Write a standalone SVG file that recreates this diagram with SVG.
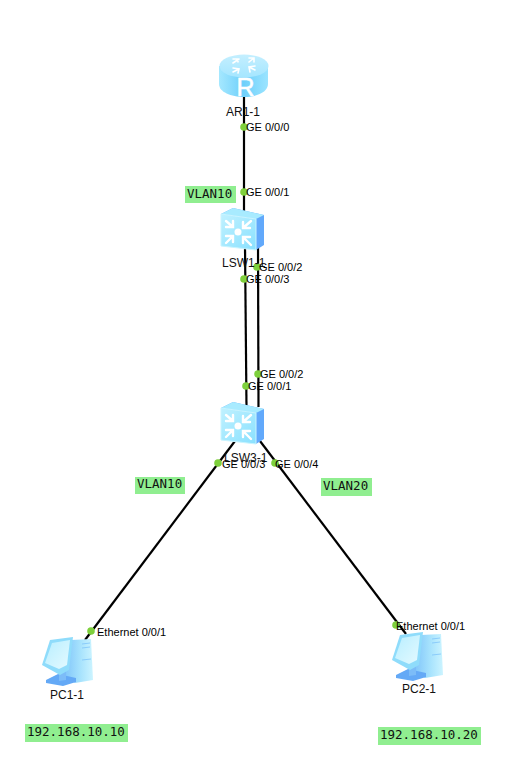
<svg xmlns="http://www.w3.org/2000/svg" width="512" height="778" viewBox="0 0 512 778">
<style>
.l{font-family:"Liberation Sans",Arial,sans-serif;font-size:11px;fill:#000}
.n{font-family:"Liberation Sans",Arial,sans-serif;font-size:12px;fill:#111}
.m{font-family:"DejaVu Sans Mono","Liberation Mono",monospace;font-size:12.5px;fill:#111}
.b{fill:#90ee90}
.c{stroke:#000;stroke-width:2.2;fill:none}
.d{fill:#7ed03c}
.w{stroke:#fff;stroke-width:2.4;fill:none;stroke-linecap:round}
</style>
<defs>
<linearGradient id="top" x1="0" y1="0" x2="0" y2="1"><stop offset="0" stop-color="#c4efff"/><stop offset="1" stop-color="#a5e6ff"/></linearGradient>
<linearGradient id="body" x1="0" y1="0" x2="1" y2="0"><stop offset="0" stop-color="#a5e8ff"/><stop offset="0.5" stop-color="#6fd0fb"/><stop offset="1" stop-color="#9be4ff"/></linearGradient>
<linearGradient id="face" x1="0" y1="0" x2="1" y2="1"><stop offset="0" stop-color="#c0f1ff"/><stop offset="1" stop-color="#8ae1ff"/></linearGradient>
<linearGradient id="tower" x1="0" y1="0" x2="1" y2="0"><stop offset="0" stop-color="#7fc4fa"/><stop offset="0.55" stop-color="#a6e2fd"/><stop offset="1" stop-color="#ccf4ff"/></linearGradient>
<linearGradient id="screen" x1="0" y1="0" x2="1" y2="1"><stop offset="0" stop-color="#b8eeff"/><stop offset="1" stop-color="#e4faff"/></linearGradient>
<g id="sw">
<path d="M-19-18 L-7-24 L24-17 L24 13 L16 18 L16-13Z" fill="#62a9fb"/>
<path d="M-19-18 L-7-24 L24-17 L16-13Z" fill="#a8ebff"/>
<path d="M-19-18 L16-13 L16 18 L-19 14Z" fill="url(#face)" stroke="#c9f4ff" stroke-width="1"/>
<circle cx="-2" cy="0" r="3.500" fill="#fff"/>
<path class="w" d="M-14-11 L-7-5 M-14-5 L-7-5 L-7-11 M11-11 L3-4 M3-10 L3-4 L10-4 M-14 11 L-7 4 M-14 4 L-7 4 L-7 10 M11 13 L3 5 M3 11 L3 5 L10 5"/>
</g>
<g id="pc">
<path d="M4-19 L24-20 L26 21 L8 24 L-3 18Z" fill="url(#tower)"/>
<path d="M15-15 L23-16 M15-11 L23-12 M15 1 L24 0" stroke="#7fc4fa" stroke-width="0.800" fill="none"/>
<path d="M-21 21 L-9 15 L9 19 L9 23 L-4 27 L-21 24Z" fill="#64a9f6"/>
<path d="M-8 12 L-1 11 L-1 21 L-8 22Z" fill="#7cbcf8"/>
<path d="M-25 6 L-17-19 L6-22 L2 11 L-7 16Z" fill="#8fdcfb"/>
<path d="M-22 4 L-15-16 L3-19 L0 6 L-8 10Z" fill="url(#screen)"/>
</g>
</defs>
<g id="connectors">
<path class="c" d="M244 85 L244 212"/>
<path class="c" d="M245 245 L246.500 407"/>
<path class="c" d="M258 245 L258.500 407"/>
<path class="c" d="M235 441 L85 640"/>
<path class="c" d="M260 441 L406 634"/>
</g>
<g id="port-dots">
<circle class="d" cx="244" cy="127" r="3.800"/>
<circle class="d" cx="244" cy="192" r="3.800"/>
<circle class="d" cx="257" cy="267" r="3.800"/>
<circle class="d" cx="244" cy="279" r="3.800"/>
<circle class="d" cx="258" cy="374" r="3.800"/>
<circle class="d" cx="246" cy="386" r="3.800"/>
<circle class="d" cx="218" cy="463" r="3.800"/>
<circle class="d" cx="275" cy="463" r="3.800"/>
<circle class="d" cx="91" cy="631" r="3.800"/>
<circle class="d" cx="396" cy="625" r="3.800"/>
</g>
<g id="AR1-1">
<path d="M219 66 L219 84 C219 92 231 97 244 97 C257 97 268 92 268 84 L268 66Z" fill="url(#body)"/>
<ellipse cx="244" cy="66" rx="24.500" ry="11.500" fill="url(#top)"/>
<path class="w" style="stroke-width:1.600" d="M233 63 L239 59 M233 59 L238 59 L238 62 M254 58 L249 62 M249 58 L254 58 L254 62 M233 72 L239 69 M233 68 L239 69 L238 73 M255 70 L249 67 M250 72 L249 67 L255 66"/>
<text x="245.500" y="95.500" text-anchor="middle" style="font-family:'Liberation Sans',sans-serif;font-size:25px;fill:#fff;stroke:#fff;stroke-width:0.500">R</text>
<text class="n" x="226" y="116">AR1-1</text>
</g>
<g id="LSW1-1">
<use href="#sw" x="240" y="232"/>
<text class="n" x="222" y="267">LSW1-1</text>
</g>
<g id="LSW3-1">
<use href="#sw" x="240" y="426"/>
<text class="n" x="224" y="462">LSW3-1</text>
</g>
<g id="PC1-1">
<use href="#pc" x="67" y="659"/>
<text class="n" x="50" y="699">PC1-1</text>
</g>
<g id="PC2-1">
<use href="#pc" x="417" y="654"/>
<text class="n" x="402" y="693">PC2-1</text>
</g>
<g id="port-labels">
<text class="l" x="246" y="131">GE 0/0/0</text>
<text class="l" x="246" y="196">GE 0/0/1</text>
<text class="l" x="259" y="271">GE 0/0/2</text>
<text class="l" x="246" y="283">GE 0/0/3</text>
<text class="l" x="260" y="378">GE 0/0/2</text>
<text class="l" x="248" y="390">GE 0/0/1</text>
<text class="l" x="222" y="468">GE 0/0/3</text>
<text class="l" x="275" y="468">GE 0/0/4</text>
<text class="l" x="97" y="636">Ethernet 0/0/1</text>
<text class="l" x="396" y="630">Ethernet 0/0/1</text>
</g>
<g id="notes">
<rect class="b" x="185" y="186" width="51" height="17"/><text class="m" x="187" y="198">VLAN10</text>
<rect class="b" x="135" y="477" width="50" height="17"/><text class="m" x="137" y="488">VLAN10</text>
<rect class="b" x="321" y="478" width="51" height="18"/><text class="m" x="323" y="490">VLAN20</text>
<rect class="b" x="25" y="724" width="103" height="18"/><text class="m" x="27" y="736">192.168.10.10</text>
<rect class="b" x="378" y="727" width="103" height="18"/><text class="m" x="380" y="739">192.168.10.20</text>
</g>
</svg>
